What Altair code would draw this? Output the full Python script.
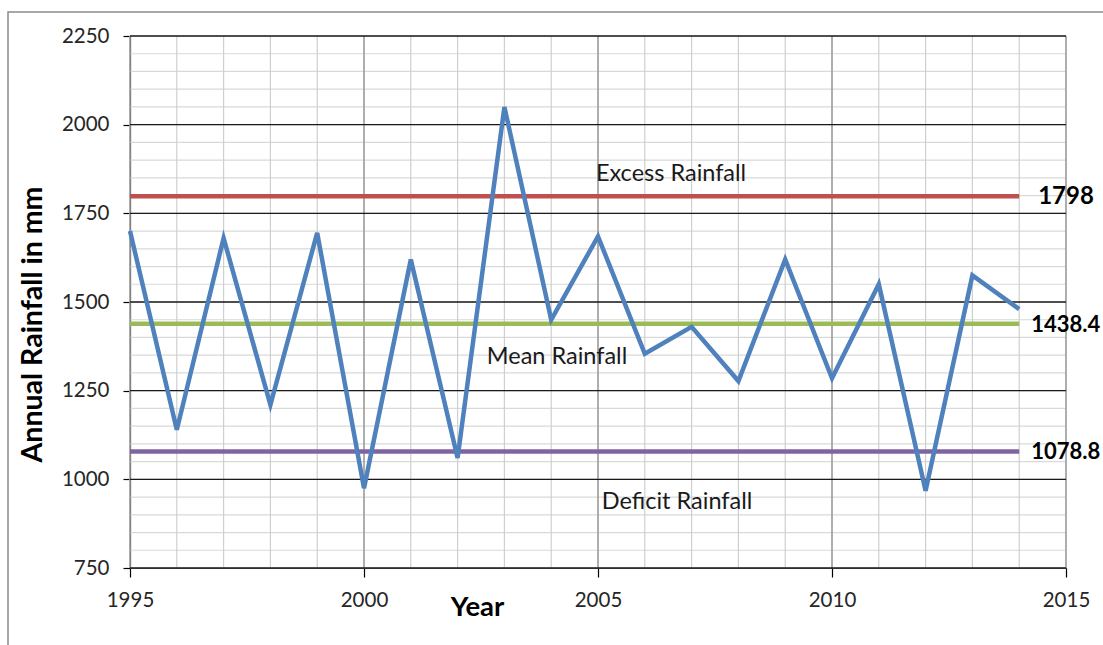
import altair as alt
import pandas as pd

# Annual rainfall series (mm)
years = [1995, 1996, 1997, 1998, 1999, 2000, 2001, 2002, 2003, 2004,
         2005, 2006, 2007, 2008, 2009, 2010, 2011, 2012, 2013, 2014]
rainfall = [1700, 1140, 1680, 1210, 1695, 975, 1620, 1060, 2050, 1450,
            1685, 1354, 1430, 1277, 1620, 1285, 1550, 968, 1575, 1480]

# Reference levels: excess, mean, deficit
level_names = ["Excess Rainfall", "Mean Rainfall", "Deficit Rainfall"]
level_values = [1798, 1438.4, 1078.8]
level_labels = ["1798", "1438.4", "1078.8"]
level_colors = ["#C0504D", "#9BBB59", "#8064A2"]

# Axis ticks and grid positions
x_major = [1995, 2000, 2005, 2010, 2015]
x_minor = list(range(1995, 2016))
y_major = [750, 1000, 1250, 1500, 1750, 2000, 2250]
y_minor = list(range(750, 2251, 50))

FONT = "Lato"
W, H = 936, 532

series = pd.DataFrame({"Year": years, "Rainfall": rainfall})
levels = pd.DataFrame({
    "name": level_names,
    "value": level_values,
    "label": level_labels,
    "color": level_colors,
    "start": [years[0]] * 3,
    "end": [years[-1]] * 3,
})

x_scale = alt.Scale(domain=[1995, 2015], nice=False, zero=False)
y_scale = alt.Scale(domain=[750, 2250], nice=False, zero=False)

x_axis = alt.Axis(
    values=x_major, format="d", labelFlush=False, labelOverlap=False,
    labelFont=FONT, labelFontSize=20.5, labelColor="#262626", labelPadding=13,
    tickSize=9, tickColor="#000000", tickWidth=1.2,
    domainColor="#000000", domainWidth=1.2, grid=False,
    title="Year", titleFont=FONT, titleFontSize=27.5, titleFontWeight="bold",
    titleColor="#000000", titleX=347, titleY=39, titleBaseline="middle",
    titleAlign="center",
)

y_axis = alt.Axis(
    values=y_major, format="d", labelFlush=False, labelOverlap=False,
    labelFont=FONT, labelFontSize=20.5, labelColor="#262626", labelPadding=14,
    tickSize=7, tickColor="#000000", tickWidth=1.2,
    domainColor="#000000", domainWidth=1.2, grid=False,
    title="Annual Rainfall in mm", titleFont=FONT, titleFontSize=28.5,
    titleFontWeight="bold", titleColor="#000000",
    titleAngle=270, titleX=-98, titleY=288, titleBaseline="middle",
    titleAlign="center",
)

# Outer chart frame
frame = alt.Chart(pd.DataFrame({"k": [0]})).mark_rect(
    fill=None, stroke="#8C8C8C", strokeWidth=1.5
).encode(
    x=alt.value(-122), x2=alt.value(1100),
    y=alt.value(-24), y2=alt.value(700),
)

# Gridlines
def vgrid(vals, color, width):
    return alt.Chart(pd.DataFrame({"g": vals})).mark_rule(
        color=color, strokeWidth=width
    ).encode(x=alt.X("g:Q", scale=x_scale, axis=x_axis))

def hgrid(vals, color, width):
    return alt.Chart(pd.DataFrame({"g": vals})).mark_rule(
        color=color, strokeWidth=width
    ).encode(y=alt.Y("g:Q", scale=y_scale, axis=y_axis))

grid = (
    hgrid(y_minor, "#D9D9D9", 1.2)
    + vgrid(x_minor, "#CFCFCF", 1.2)
    + vgrid(x_major, "#8C8C8C", 1.2)
    + hgrid(y_major, "#1A1A1A", 1.3)
)

line = alt.Chart(series).mark_line(
    color="#4F81BD", strokeWidth=4.5, strokeJoin="miter", strokeCap="butt"
).encode(
    x=alt.X("Year:Q", scale=x_scale, axis=x_axis),
    y=alt.Y("Rainfall:Q", scale=y_scale, axis=y_axis),
)

rules = alt.Chart(levels).mark_rule(strokeWidth=4.5).encode(
    x=alt.X("start:Q", axis=x_axis), x2="end:Q",
    y=alt.Y("value:Q", axis=y_axis),
    color=alt.Color("color:N", scale=None),
)

value_labels_a = alt.Chart(levels[levels["label"] == "1798"]).mark_text(
    align="left", baseline="middle", dx=19, dy=1,
    font=FONT, fontSize=24, fontWeight="bold", color="#000000",
).encode(x="end:Q", y="value:Q", text="label:N")

value_labels_b = alt.Chart(levels[levels["label"] != "1798"]).mark_text(
    align="left", baseline="middle", dx=12, dy=1,
    font=FONT, fontSize=22, fontWeight="bold", color="#000000",
).encode(x="end:Q", y="value:Q", text="label:N")

def level_note(name, px, dy):
    return alt.Chart(levels[levels["name"] == name]).mark_text(
        align="center", baseline="middle", dy=dy,
        font=FONT, fontSize=23.5, color="#1A1A1A",
    ).encode(x=alt.value(px), y="value:Q", text="name:N")

notes = (
    level_note("Excess Rainfall", 541, -22)
    + level_note("Mean Rainfall", 427, 33)
    + level_note("Deficit Rainfall", 547, 51)
)

chart = alt.layer(
    frame, grid, rules, line, value_labels_a, value_labels_b, notes
).properties(
    width=W, height=H,
    autosize=alt.AutoSizeParams(type="none"),
    padding={"left": 130, "top": 36, "right": 1103 - 130 - W, "bottom": 77},
    background="#FFFFFF",
).configure_view(stroke=None)

chart.save("out.html", embed_options={"renderer": "svg", "actions": False})
